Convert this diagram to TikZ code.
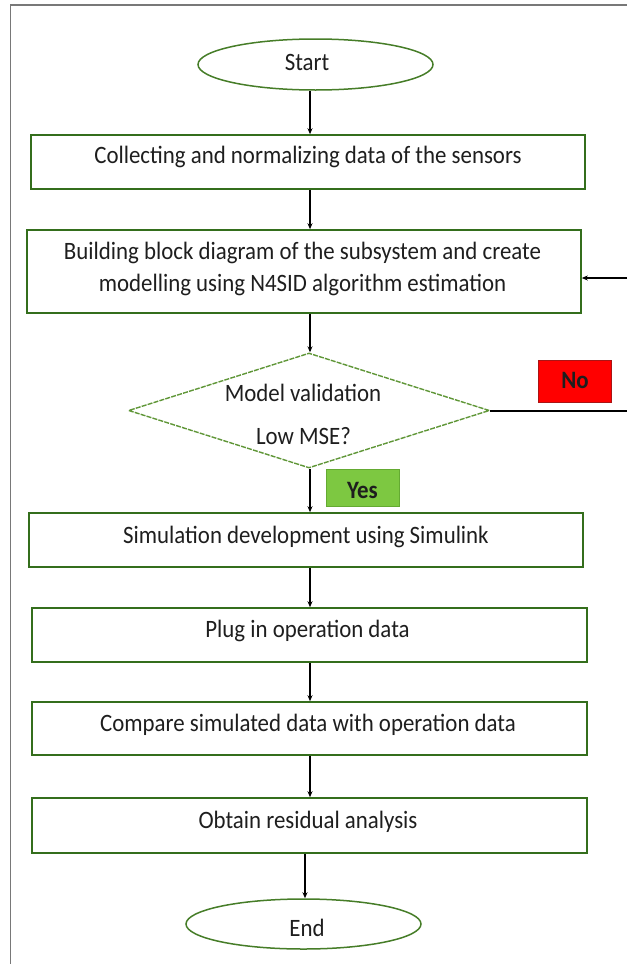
\documentclass[tikz,border=0pt]{standalone}
\usepackage{fontspec}
\setmainfont{Carlito}[FakeStretch=0.915]
\usetikzlibrary{shapes.geometric,arrows.meta}
\definecolor{boxgreen}{RGB}{52,110,28}
\definecolor{ellgreen}{RGB}{70,125,40}
\definecolor{diagreen}{RGB}{95,150,55}
\definecolor{yesgreen}{RGB}{125,200,65}
\definecolor{yesborder}{RGB}{100,170,50}
\definecolor{noborder}{RGB}{170,20,20}
\definecolor{txt}{RGB}{30,30,30}
\definecolor{framegray}{RGB}{120,120,120}
\begin{document}
\begin{tikzpicture}[x=1pt,y=-1pt,
  font=\fontsize{25}{32}\selectfont, text=txt,
  stepbox/.style={draw=boxgreen,line width=1.6pt,rectangle,minimum width=554pt,minimum height=54pt,inner sep=0pt},
  line/.style={inner sep=0pt,anchor=base},
  term/.style={draw=ellgreen,line width=1.5pt,ellipse,minimum width=235pt,minimum height=51pt,inner sep=0pt},
  decision/.style={draw=diagreen,line width=1.4pt,dash pattern=on 5pt off 1.2pt,diamond,minimum width=361pt,minimum height=115pt,inner sep=0pt},
  tag/.style={rectangle,line width=1pt,minimum width=73pt,inner sep=0pt},
  tagtext/.style={inner sep=0pt,anchor=base,font=\fontsize{25}{32}\selectfont\bfseries},
  arr/.style={draw=black,line width=1.3pt,-{Stealth[length=6pt,width=5pt]}},
  plain/.style={draw=black,line width=2pt},
  frame/.style={draw=framegray,line width=1.6pt}
]
\useasboundingbox (0,0) rectangle (627,964);

% frame (top and left edges only)
\coordinate (fl) at (10.5,964);
\coordinate (ftl) at (10.5,5);
\coordinate (ftr) at (627,5);
\path[frame] (fl) -- (ftl) -- (ftr);

% column of the connectors
\coordinate (ax) at (310,0);
\coordinate (ax2) at (305,0);

% shapes
\node[term] (start) at (315.5,64.5) {};
\node[stepbox] (b1) at (308,162) {};
\node[stepbox,minimum height=83pt] (b2) at (304,271.5) {};
\node[decision] (dec) at (309,410.5) {};
\node[tag,fill=red,draw=noborder,minimum height=42pt] (no) at (574.5,381) {};
\node[tag,fill=yesgreen,draw=yesborder,minimum height=37pt] (yes) at (362.5,487.5) {};
\node[stepbox] (b3) at (306,540) {};
\node[stepbox,minimum width=555pt] (b4) at (309.5,635) {};
\node[stepbox,minimum width=555pt,minimum height=53pt] (b5) at (309.5,728.5) {};
\node[stepbox,minimum width=555pt,minimum height=55pt] (b6) at (309.5,825.5) {};
\node[term,minimum height=50pt] (end) at (303.5,924) {};

% texts (placed on their baselines)
\node[line] (startt) at (307,70.5) {Start};
\node[line] (b1t) at (308,163) {Collecting and normalizing data of the sensors};
\node[line] (b2ta) at (302.5,259) {Building block diagram of the subsystem and create};
\node[line] (b2tb) at (302.5,291) {modelling using N4SID algorithm estimation};
\node[line] (decta) at (303,401) {Model validation};
\node[line] (dectb) at (303.5,444) {Low MSE?};
\node[tagtext] (not) at (575,388) {No};
\node[tagtext] (yest) at (362.5,498) {Yes};
\node[line] (b3t) at (306,543) {Simulation development using Simulink};
\node[line] (b4t) at (307.5,637.5) {Plug in operation data};
\node[line] (b5t) at (308,731.5) {Compare simulated data with operation data};
\node[line] (b6t) at (308,828) {Obtain residual analysis};
\node[line] (endt) at (307,936.5) {End};

% connectors
\draw[arr] (start.south -| ax) -- (b1.north -| ax);
\draw[arr] (b1.south -| ax) -- (b2.north -| ax);
\draw[arr] (b2.south -| ax) -- (dec.north -| ax);
\draw[arr] (dec.south -| ax) -- (b3.north -| ax);
\draw[arr] (b3.south -| ax) -- (b4.north -| ax);
\draw[arr] (b4.south -| ax) -- (b5.north -| ax);
\draw[arr] (b5.south -| ax) -- (b6.north -| ax);
\draw[arr] (b6.south -| ax2) -- (end.north -| ax2);

% loop back (cut at the right edge)
\coordinate (noout) at (627,412);
\coordinate (loopin) at (627,278);
\draw[plain] (dec.east) -- (dec.east -| noout);
\draw[arr] (loopin) -- (loopin -| b2.east);
\end{tikzpicture}
\end{document}
